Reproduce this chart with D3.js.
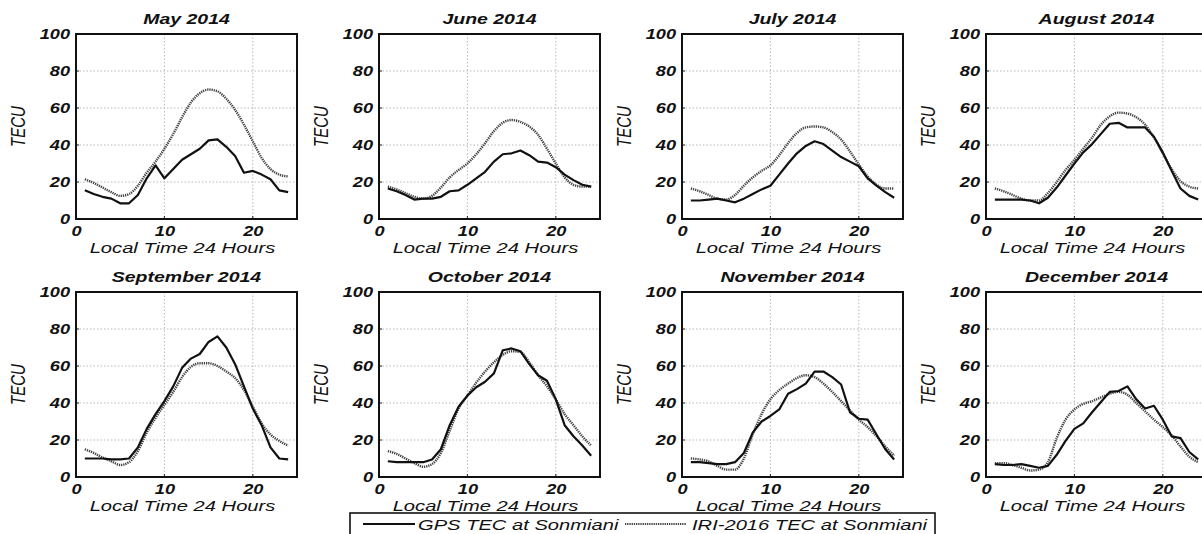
<!DOCTYPE html>
<html><head><meta charset="utf-8">
<script src="https://cdn.jsdelivr.net/npm/d3@7"></script>
<style>
body{margin:0;background:#fff}
svg{display:block}
text{font-family:"Liberation Sans",Arial,sans-serif;font-style:italic;fill:#111}
</style>
</head><body>
<svg id="c" width="1202" height="534"></svg>
<script>
// ---- data ----
const months = ["May 2014","June 2014","July 2014","August 2014","September 2014","October 2014","November 2014","December 2014"];
const hours = [1,2,3,4,5,6,7,8,9,10,11,12,13,14,15,16,17,18,19,20,21,22,23,24];
const xTicks = [0,10,20];
const yTicks = [0,20,40,60,80,100];
const xGrid = [10,20];
const yGrid = [20,40,60,80];
const seriesNames = ["GPS TEC at Sonmiani","IRI-2016 TEC at Sonmiani"];

const gpsMay = [15.5,13.5,12,11,8.5,8.5,13,22,29,22,27,32,35,38,42.5,43,39,34,25,26,24,21.5,15.5,14.5];
const iriMay = [21.5,19.5,17,14.5,12.5,13.5,18,25,31,38,46,55,63,68,70,69,65,59,51,42,33,27,24,23];
const gpsJun = [16.5,15,13,10.5,11,11,12,15,15.5,18.5,22,25.5,31,35,35.5,37,34.5,31,30.5,28,24,21,18.5,17.5];
const iriJun = [17.5,16,14,12,11,12.5,17,22.5,26.5,30,35,41,47.5,52,53.5,52.5,50,45.5,38,30,22.5,18.5,17.5,17.5];
const gpsJul = [10,10,10.5,11,10,9,11,13.5,16,18,24,30,35.5,39.5,42,40.5,37,33.5,31,28.5,22,18,14.5,11.5];
const iriJul = [16.5,15,13,11,10.5,13,18,22.5,26,29,34.5,41,46.5,49.5,50,49.5,47,43,36.5,29.5,23,18.5,16.5,16.5];
const gpsAug = [10.5,10.5,10.5,10.5,10,8.5,11.5,17,23.5,30,36,40.5,46,51.5,52,49.5,49.5,49.5,44.5,36,26,16.5,12.5,10.5];
const iriAug = [16.5,15,13,11,10,10,14,20,26.5,32,38,44,51,55.5,57.5,57,55,51,44,35.5,27,20.5,17.5,16.5];
const gpsSep = [10,10,10,9.5,9.5,10,16,26,34,41,49,59,64,66.5,73,76,70,61,49,37,28,16,10,9.5];
const iriSep = [15,13,10.5,8.5,6.5,8,14,24,32,39,46,54,59.5,61.5,61.5,60,57,53.5,47,38,29,23,19.5,17];
const gpsOct = [8.5,8,8,8,8,9.5,15,28,38,44,48.5,51.5,56,68.5,69.5,68,61,55,52,42,28,22,17,11.5];
const iriOct = [14,12.5,10,7.5,5.5,7,13,25,37,44,51,57,62,66,68,67.5,62,55,49,42,34,28,22,17];
const gpsNov = [8,8,7.5,7,7,8,13,24,30,33,36.5,45,47.5,50.5,57,57,54,50,35,31.5,31,23,15,9.5];
const iriNov = [10,9.5,8.5,6,4,4,10,23,34,42,47,50.5,53.5,55,54,50.5,46,41,36,31,27,22,16.5,11.5];
const gpsDec = [7,6.5,6.5,7,6,5,6,12,19.5,26,29,35,40.5,46,46.5,49,42,37,38.5,31,22,21,13.5,9.5];
const iriDec = [7.5,7.5,6.5,5,3.5,4,8,21,31,36.5,39.5,41,43,45,46,44.5,40,35.5,31,27,22.5,16.5,11,8];

const gpsAll = [gpsMay,gpsJun,gpsJul,gpsAug,gpsSep,gpsOct,gpsNov,gpsDec];
const iriAll = [iriMay,iriJun,iriJul,iriAug,iriSep,iriOct,iriNov,iriDec];

// ---- layout ----
const SX = 1.3;
const colLefts = [76,379,682,986], rowTops = [34,292], W = 221, H = 185;
const svg = d3.select("#c");
const DOT = "1.3,0.9";

months.forEach((m,i)=>{
  const r = Math.floor(i/4), c = i%4;
  const g = svg.append("g").attr("transform",`translate(${colLefts[c]},${rowTops[r]})`);
  const x = d3.scaleLinear().domain([0,25]).range([0,W]);
  const y = d3.scaleLinear().domain([0,100]).range([H,0]);

  // grid
  g.selectAll(".gx").data(xGrid).join("line")
    .attr("x1",d=>x(d)).attr("x2",d=>x(d)).attr("y1",0).attr("y2",H)
    .attr("stroke","#b8b8b8").attr("stroke-width",1).attr("stroke-dasharray","1.5,2");
  g.selectAll(".gy").data(yGrid).join("line")
    .attr("y1",d=>y(d)).attr("y2",d=>y(d)).attr("x1",0).attr("x2",W)
    .attr("stroke","#b8b8b8").attr("stroke-width",1).attr("stroke-dasharray","1.5,2");

  // inner ticks
  g.selectAll(".tx").data(xTicks).join("line")
    .attr("x1",d=>x(d)).attr("x2",d=>x(d)).attr("y1",H).attr("y2",H-3)
    .attr("stroke","#222").attr("stroke-width",1);
  g.selectAll(".ty").data(yTicks).join("line")
    .attr("x1",0).attr("x2",3).attr("y1",d=>y(d)).attr("y2",d=>y(d))
    .attr("stroke","#222").attr("stroke-width",1);

  // series
  const lineG = d3.line().x((d,k)=>x(hours[k])).y(d=>y(d));
  const lineI = d3.line().x((d,k)=>x(hours[k])).y(d=>y(d)).curve(d3.curveMonotoneX);
  g.append("path").datum(iriAll[i]).attr("d",lineI)
    .attr("fill","none").attr("stroke","#444").attr("stroke-width",2.4).attr("stroke-dasharray",DOT);
  g.append("path").datum(gpsAll[i]).attr("d",lineG)
    .attr("fill","none").attr("stroke","#111").attr("stroke-width",2.2).attr("stroke-linejoin","round");

  // box
  g.append("rect").attr("x",0).attr("y",0).attr("width",W).attr("height",H)
    .attr("fill","none").attr("stroke","#111").attr("stroke-width",2);

  // axes
  const ax = g.append("g").attr("transform",`translate(0,${H})`)
    .call(d3.axisBottom(x).tickValues(xTicks).tickSize(0).tickPadding(7));
  const ay = g.append("g").call(d3.axisLeft(y).tickValues(yTicks).tickSize(0).tickPadding(4.6));
  [ax,ay].forEach(a=>{
    a.select(".domain").remove();
    a.selectAll("text").attr("transform",`scale(${SX},1)`)
      .style("font-size","14px").style("font-weight","bold").style("font-style","italic")
      .attr("fill","#111");
  });

  // title
  g.append("text").attr("transform",`translate(${W/2},-10) scale(${SX},1)`)
    .attr("text-anchor","middle").style("font-size","15px").style("font-weight","bold").text(m);
  // x label
  g.append("text").attr("transform",`translate(${W/2-4},${H+34}) scale(${SX},1)`)
    .attr("text-anchor","middle").style("font-size","15.5px").text("Local Time 24 Hours");
  // y label
  g.append("text").attr("transform",`translate(-51,${H/2}) rotate(-90) scale(1,${SX})`)
    .attr("text-anchor","middle").style("font-size","15px").text("TECU");
});

// legend
const lg = svg.append("g");
lg.append("rect").attr("x",350).attr("y",513).attr("width",585).attr("height",30)
  .attr("fill","#fff").attr("stroke","#111").attr("stroke-width",1.6);
const legItems = [
  {x1:363,x2:415,tx:418,dash:null,stroke:"#111"},
  {x1:625,x2:686,tx:692,dash:DOT,stroke:"#444"}
];
legItems.forEach((it,k)=>{
  lg.append("line").attr("x1",it.x1).attr("x2",it.x2).attr("y1",524).attr("y2",524)
    .attr("stroke",it.stroke).attr("stroke-width",2).attr("stroke-dasharray",it.dash);
  lg.append("text").attr("transform",`translate(${it.tx},530) scale(${SX},1)`)
    .style("font-size","15.5px").text(seriesNames[k]);
});
</script>
</body></html>
